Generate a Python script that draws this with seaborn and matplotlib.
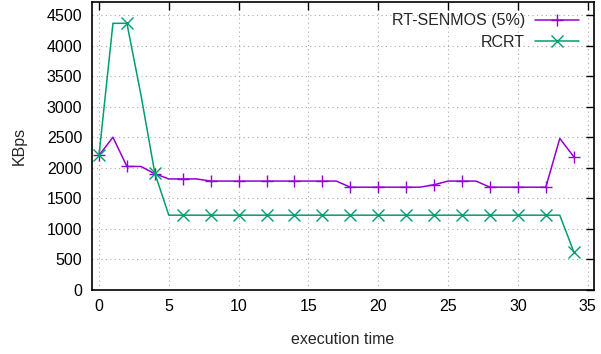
import matplotlib
matplotlib.use("Agg")
import matplotlib.pyplot as plt
import seaborn as sns
import pandas as pd

time = list(range(35))
senmos = [2200, 2500, 2020, 2020, 1900, 1815, 1815, 1815, 1780, 1780,
          1780, 1780, 1780, 1780, 1780, 1780, 1780, 1780, 1680, 1680,
          1680, 1680, 1680, 1680, 1720, 1780, 1780, 1780, 1680, 1680,
          1680, 1680, 1680, 2480, 2180]
rcrt = [2200, 4370, 4370, 3200, 1910, 1220, 1220, 1220, 1220, 1220,
        1220, 1220, 1220, 1220, 1220, 1220, 1220, 1220, 1220, 1220,
        1220, 1220, 1220, 1220, 1220, 1220, 1220, 1220, 1220, 1220,
        1220, 1220, 1220, 1220, 620]
series_names = ["RT-SENMOS (5%)", "RCRT"]
colors = ["#9400D3", "#009E73"]
markers = ["+", "x"]
xticks = [0, 5, 10, 15, 20, 25, 30, 35]
yticks = [0, 500, 1000, 1500, 2000, 2500, 3000, 3500, 4000, 4500]

sns.set_style("white")
plt.rcParams["font.family"] = ["Liberation Sans", "DejaVu Sans"]
FS = 11.5

fig = plt.figure(figsize=(6.01, 3.54), dpi=100)
ax = fig.add_axes([92 / 601, 1 - 289.5 / 354, (594 - 92) / 601, (289.5 - 2) / 354])

df = pd.DataFrame({"time": time, series_names[0]: senmos, series_names[1]: rcrt})
handles = []
for name, c, m in zip(series_names, colors, markers):
    sns.lineplot(data=df, x="time", y=name, ax=ax, color=c, marker=m,
                 markevery=2, markersize=8, markeredgewidth=1.0,
                 linewidth=1.1, markeredgecolor=c)
    handles.append(ax.lines[-1])

ax.set_xlim(-0.5, 35.45)
ax.set_ylim(0, 4720)
ax.set_xticks(xticks)
ax.set_yticks(yticks)
ax.tick_params(direction="in", length=6, width=1, top=True, right=True,
               labelsize=FS, colors="black", pad=7)
ax.grid(True, linestyle=(0, (1, 3)), color="#aaaaaa", linewidth=0.8)
for s in ax.spines.values():
    s.set_visible(True)
    s.set_color("black")
    s.set_linewidth(1.2)

ax.set_xlabel("execution time", fontsize=FS, labelpad=13)
ax.set_ylabel("KBps", fontsize=FS, labelpad=14)

leg = ax.legend(handles, series_names, loc="upper right", frameon=False,
                fontsize=FS, markerfirst=False, handlelength=2.8,
                borderaxespad=0.3, labelspacing=0.4, handletextpad=0.6,
                bbox_to_anchor=(0.993, 1.0))
for t in leg.get_texts():
    t.set_ha("right")
leg._legend_box.align = "right"

fig.savefig("out.png", dpi=100)
